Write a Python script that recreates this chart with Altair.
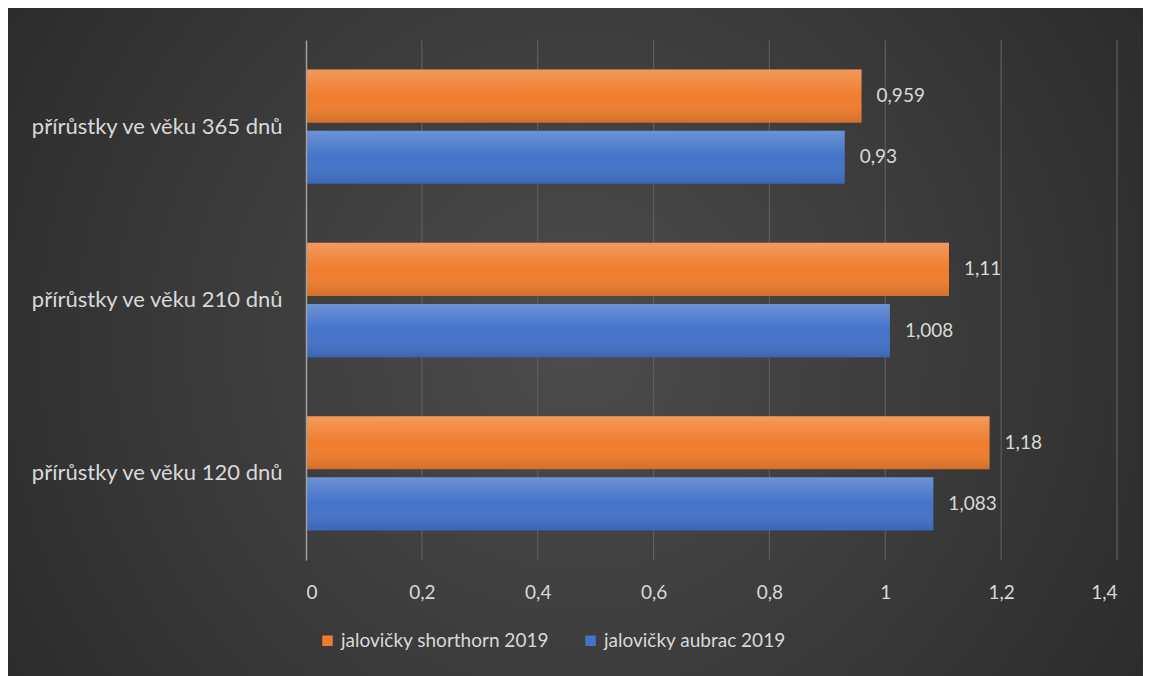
import altair as alt
import pandas as pd

categories = ["přírůstky ve věku 365 dnů", "přírůstky ve věku 210 dnů", "přírůstky ve věku 120 dnů"]
series = ["jalovičky shorthorn 2019", "jalovičky aubrac 2019"]
shorthorn = [0.959, 1.11, 1.18]
aubrac = [0.93, 1.008, 1.083]
x_ticks = [0, 0.2, 0.4, 0.6, 0.8, 1.0, 1.2, 1.4]
colors = ["#f07d2e", "#4473c9"]

rows = []
for c, s, a in zip(categories, shorthorn, aubrac):
    rows.append({"kat": c, "serie": series[0], "v": s})
    rows.append({"kat": c, "serie": series[1], "v": a})
df = pd.DataFrame(rows)
grid_df = pd.DataFrame({"t": x_ticks[1:]})

W, H = 811, 520
PL, PT, PR, PB = 298, 32, 26, 116
FONT = "Lato"
FS = 19
TXT = "#d9d9d9"

y_enc = alt.Y("kat:N", sort=categories, title=None,
              scale=alt.Scale(paddingInner=0.34, paddingOuter=0.17),
              axis=alt.Axis(domain=True, domainColor="#a0a0a0", domainWidth=1.5, ticks=False,
                            labelFont=FONT, labelFontSize=22, labelColor=TXT, labelPadding=24,
                            labelLimit=400, grid=False, zindex=1))
yoff_enc = alt.YOffset("serie:N", sort=series, scale=alt.Scale(paddingInner=0.13, paddingOuter=0))
x_enc = alt.X("v:Q", title=None, scale=alt.Scale(domain=[0, 1.4], nice=False),
              axis=alt.Axis(values=x_ticks, format="~g", domain=False, ticks=False, grid=False,
                            zindex=1, labelFont=FONT, labelFontSize=FS,
                            labelColor=TXT, labelPadding=23,
                            labelExpr="replace(datum.label, '.', ',')"))

bg = alt.Chart(alt.Data(values=[{"a": 1}])).mark_rect(
    clip=False,
    color=alt.Gradient(gradient="radial", x1=0.5, y1=0.5, r1=0.0, x2=0.5, y2=0.5, r2=0.75,
                       stops=[alt.GradientStop(color="#4c4c4c", offset=0),
                              alt.GradientStop(color="#3a3a3a", offset=0.45),
                              alt.GradientStop(color="#222222", offset=1)])
).encode(x=alt.value(-PL), x2=alt.value(W + PR), y=alt.value(-PT), y2=alt.value(H + PB))

grid = alt.Chart(grid_df).mark_rule(color="#5e5e5e", strokeWidth=1.2).encode(
    x=alt.X("t:Q", scale=alt.Scale(domain=[0, 1.4], nice=False)),
    y=alt.value(0), y2=alt.value(H))

base = alt.Chart(df)

bars = base.mark_bar().encode(
    y=y_enc, yOffset=yoff_enc, x=x_enc,
    color=alt.Color("serie:N", sort=series,
                    scale=alt.Scale(domain=series, range=colors),
                    legend=alt.Legend(title=None, orient="none", direction="horizontal",
                                      legendX=12, legendY=591, symbolType="square",
                                      symbolSize=110, symbolStrokeWidth=0, labelFont=FONT,
                                      labelFontSize=FS, labelColor=TXT, labelOffset=4,
                                      columnPadding=32, labelLimit=400))
)

shine = base.mark_bar(
    color=alt.Gradient(gradient="linear", x1=0, x2=0, y1=0, y2=1,
                       stops=[alt.GradientStop(color="rgba(255,255,255,0.22)", offset=0),
                              alt.GradientStop(color="rgba(255,255,255,0.0)", offset=0.5),
                              alt.GradientStop(color="rgba(0,0,0,0.12)", offset=1)])
).encode(y=alt.Y("kat:N", sort=categories), yOffset=alt.YOffset("serie:N", sort=series),
         x=alt.X("v:Q"))

labels = base.transform_calculate(
    lab="replace(format(datum.v, '.3~f'), '.', ',')"
).mark_text(align="left", baseline="middle", dx=15, font=FONT, fontSize=FS, color=TXT).encode(
    y=alt.Y("kat:N", sort=categories), yOffset=alt.YOffset("serie:N", sort=series),
    x=alt.X("v:Q"), text="lab:N")

chart = alt.layer(bg, grid, bars, shine, labels).properties(
    width=W, height=H,
    autosize=alt.AutoSizeParams(type="none"),
    padding={"left": PL, "top": PT, "right": PR, "bottom": PB},
    background="#2a2a2a"
).configure_view(stroke=None)

chart.save("out.html", embed_options={"renderer": "svg", "actions": False})
